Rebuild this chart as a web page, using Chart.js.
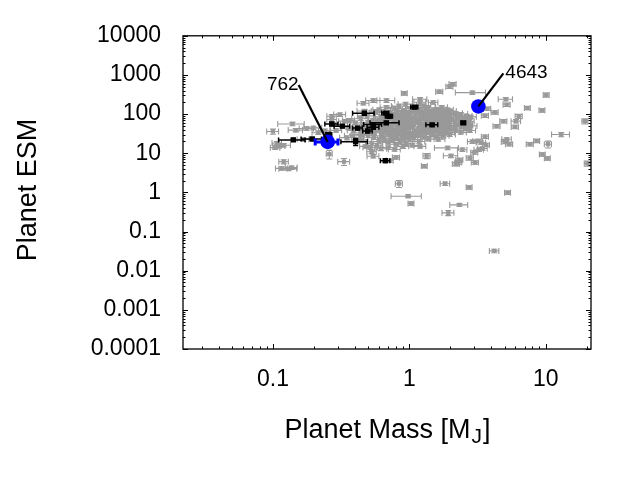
<!DOCTYPE html>
<html><head><meta charset="utf-8">
<script src="https://cdn.jsdelivr.net/npm/chart.js@4.4.0/dist/chart.umd.min.js"></script>
<style>html,body{margin:0;padding:0;background:#fff;}canvas{display:block;}</style>
</head><body>
<canvas id="c" width="640" height="480" style="width:640px;height:480px"></canvas>
<script>
// ---- axis ticks ----
const xTickValues = [0.1, 1, 10];
const xTickLabels = ['0.1', '1', '10'];
const yTickValues = [0.0001, 0.001, 0.01, 0.1, 1, 10, 100, 1000, 10000];
const yTickLabels = ['0.0001', '0.001', '0.01', '0.1', '1', '10', '100', '1000', '10000'];
const xTitle = ['Planet Mass [M', 'J', ']'];
const yTitle = 'Planet ESM';

// ---- highlighted planets (blue) ----
const blueNames = ['762', '4643'];
const blueMass = [0.252, 3.21];
const blueESM = [19.5, 157];
const blueMassErrPct = [19, 0];
const blueESMErrPct = [0, 0];

// ---- black points: [mass, ESM, massErr%, esmErr%] ----
const blackPoints = [
  [0.141, 21.9, 22, 8], [0.194, 23.2, 17, 8], [0.404, 19.8, 22, 20], [0.27, 56, 11, 8],
  [0.323, 49.3, 13, 8], [0.418, 43.9, 8, 8], [0.495, 36.9, 8, 8], [0.468, 105, 18, 8],
  [0.544, 54, 15, 8], [0.544, 46, 10, 8], [0.667, 106, 6, 8], [0.71, 88, 6, 8],
  [0.678, 59.7, 24, 8], [0.667, 6.47, 8, 10], [1.09, 151, 6, 8], [1.47, 53.1, 10, 8],
  [2.49, 59.7, 4, 8], [0.257, 30.3, 5, 8]
];

// ---- grey points: [mass, ESM, massErr%, esmErr%] ----
const greyLeft = [
  [0.10, 36, 10, 15], [0.139, 56, 22, 10], [0.147, 39, 12, 10], [0.111, 15.4, 10, 12],
  [0.12, 16, 12, 10], [0.107, 18.2, 8, 10], [0.104, 13.9, 8, 10], [0.12, 6.1, 8, 12],
  [0.116, 4.1, 10, 10], [0.13, 4.0, 15, 10], [0.137, 4.3, 10, 10], [0.259, 9.5, 5, 25],
  [0.332, 6.1, 10, 20], [0.27, 88, 8, 10], [0.31, 97, 10, 10], [0.177, 43, 12, 10],
  [0.198, 44.6, 15, 10], [0.167, 22.7, 10, 10], [0.215, 33.4, 10, 10], [0.24, 37.5, 10, 10],
  [0.27, 72.6, 8, 10], [0.29, 54.2, 8, 10], [0.29, 38.4, 10, 10], [0.357, 44.6, 12, 10],
  [0.337, 66, 10, 10], [0.46, 190, 10, 10], [0.544, 222, 12, 10], [0.68, 222, 15, 10],
  [0.38, 28, 12, 10], [0.42, 22, 10, 10], [0.44, 33, 10, 12], [0.40, 60, 12, 10],
  [0.36, 70, 10, 10], [0.48, 15, 10, 10], [0.52, 14, 12, 10], [0.58, 16, 10, 12],
  [0.62, 13, 10, 10], [0.70, 14, 12, 10], [0.78, 12.5, 10, 10], [0.90, 15, 10, 12],
  [1.05, 16, 12, 10], [1.20, 15, 10, 10], [0.42, 45, 10, 10], [0.47, 120, 12, 10],
  [0.39, 38, 10, 10], [0.35, 25, 12, 12], [0.53, 10.9, 8, 10], [0.544, 8.4, 10, 10],
  [0.72, 6.5, 6, 10], [0.8, 7.8, 6, 10], [0.84, 1.67, 6, 20], [0.98, 0.8, 25, 8],
  [1.03, 0.52, 5, 10]
];
const greyRight = [
  [0.92, 340, 5, 10], [1.2, 240, 12, 10], [1.5, 198, 8, 10], [2.08, 583, 6, 10],
  [1.97, 501, 6, 10], [1.66, 375, 6, 10], [2.9, 354, 25, 10], [10.1, 308, 5, 12],
  [5.1, 240, 12, 10], [5.18, 173, 6, 10], [7.35, 143, 5, 10], [9.4, 125, 5, 10],
  [3.73, 137, 6, 10], [4.23, 111, 6, 10], [3.59, 91, 6, 10], [6.35, 88, 6, 12],
  [4.9, 66, 6, 10], [4.37, 49, 6, 10], [5.95, 47, 6, 10], [6.06, 66, 8, 10],
  [19.4, 66, 5, 15], [13, 30, 15, 12], [10.4, 17, 6, 20], [9.46, 9.3, 5, 10],
  [10.3, 7.4, 5, 10], [8.6, 20.6, 5, 10], [7.66, 17, 6, 10], [5.18, 22.7, 8, 10],
  [5.03, 19.5, 6, 10], [5.4, 17, 6, 10], [3.59, 26.5, 6, 10], [3.36, 18.8, 8, 10],
  [3.18, 20.6, 8, 10], [2.9, 19.8, 8, 10], [3.65, 16.3, 6, 10], [3.45, 13.2, 8, 10],
  [3.24, 12.3, 8, 10], [2.45, 12.3, 8, 10], [3.0, 10.5, 6, 10], [2.78, 7.6, 6, 12],
  [2.02, 8.6, 12, 10], [3.03, 5.8, 6, 10], [2.29, 5.8, 6, 10], [1.34, 8.6, 6, 15],
  [1.29, 4.7, 5, 10], [1.91, 13.7, 20, 10], [1.63, 22.7, 12, 10], [1.83, 1.67, 8, 10],
  [2.75, 1.35, 5, 10], [5.26, 0.98, 5, 10], [2.33, 0.48, 15, 8], [1.93, 0.3, 10, 15],
  [4.2, 0.032, 8, 10], [20.2, 5.5, 5, 15], [2.33, 6.8, 6, 10], [2.2, 5.3, 6, 10]
];
const greyCore = [
  [0.45,30,12,10],[0.46,55,10,12],[0.44,76,14,10],[0.47,40,8,10],[0.45,22,10,12],
  [0.50,28,12,10],[0.51,48,10,10],[0.49,90,15,12],[0.52,35,8,10],[0.50,62,12,10],[0.53,18,10,12],
  [0.55,25,10,10],[0.56,42,12,10],[0.54,70,8,12],[0.57,110,10,10],[0.55,33,14,10],[0.58,55,10,10],
  [0.60,20,12,10],[0.61,38,10,12],[0.59,50,8,10],[0.62,85,12,10],[0.60,130,10,10],[0.63,28,15,10],[0.61,65,10,12],
  [0.65,24,10,10],[0.66,45,12,10],[0.64,58,8,10],[0.67,95,10,12],[0.65,36,12,10],[0.66,75,14,10],[0.68,150,10,10],
  [0.70,19,10,10],[0.71,30,12,12],[0.69,42,8,10],[0.72,52,10,10],[0.70,68,12,10],[0.73,110,10,12],[0.71,85,15,10],
  [0.75,22,12,10],[0.76,34,10,10],[0.74,48,8,12],[0.77,60,10,10],[0.75,78,12,10],[0.76,100,10,10],[0.78,140,14,12],[0.74,27,10,10],
  [0.80,17,10,10],[0.81,26,12,10],[0.79,38,10,12],[0.82,55,8,10],[0.80,70,12,10],[0.83,90,10,10],[0.81,120,10,12],[0.82,44,14,10],
  [0.85,21,10,10],[0.86,31,12,10],[0.84,40,10,10],[0.87,50,8,12],[0.85,63,12,10],[0.86,82,10,10],[0.88,105,10,10],[0.84,160,12,12],
  [0.90,24,10,10],[0.91,35,12,10],[0.89,46,8,10],[0.92,58,10,12],[0.90,72,12,10],[0.93,95,10,10],[0.91,125,14,10],[0.92,29,10,12],
  [0.95,18,12,10],[0.96,28,10,10],[0.94,40,8,10],[0.97,52,10,12],[0.95,66,12,10],[0.96,80,10,10],[0.98,110,10,10],[0.94,180,12,12],
  [1.00,22,10,10],[1.02,33,12,10],[0.99,45,8,10],[1.01,56,10,12],[1.03,70,12,10],[1.00,88,10,10],[1.02,115,14,10],[1.04,140,10,12],[0.99,27,10,10],
  [1.08,25,12,10],[1.10,36,10,10],[1.07,48,8,12],[1.12,60,10,10],[1.09,75,12,10],[1.11,95,10,10],[1.13,120,10,12],[1.08,150,12,10],[1.10,30,14,10],
  [1.18,20,10,10],[1.20,32,12,10],[1.17,42,8,12],[1.22,55,10,10],[1.19,68,12,10],[1.21,85,10,10],[1.23,105,10,12],[1.18,135,12,10],[1.20,200,10,10],
  [1.28,27,10,10],[1.30,38,12,12],[1.27,50,8,10],[1.32,62,10,10],[1.29,78,12,10],[1.31,98,10,12],[1.33,125,10,10],[1.28,165,12,10],
  [1.38,23,10,10],[1.40,35,12,10],[1.37,46,8,12],[1.42,58,10,10],[1.39,72,12,10],[1.41,90,10,10],[1.43,115,10,12],[1.38,145,12,10],
  [1.48,30,10,10],[1.50,42,12,10],[1.47,55,8,10],[1.52,68,10,12],[1.49,85,12,10],[1.51,105,10,10],[1.53,130,10,10],[1.46,38,14,12],
  [1.58,26,10,10],[1.60,37,12,10],[1.57,50,8,12],[1.62,63,10,10],[1.59,80,12,10],[1.61,100,10,10],[1.63,125,10,12],
  [1.68,33,10,10],[1.70,45,12,10],[1.67,58,8,10],[1.72,72,10,12],[1.69,92,12,10],[1.71,118,10,10],[1.73,150,10,10],
  [1.78,28,10,12],[1.80,40,12,10],[1.77,52,8,10],[1.82,66,10,10],[1.79,85,12,12],[1.81,110,10,10],
  [1.88,35,10,10],[1.90,48,12,10],[1.87,62,8,12],[1.92,78,10,10],[1.89,98,12,10],[1.91,130,10,10],
  [1.98,30,10,10],[2.00,44,12,12],[1.97,57,8,10],[2.02,72,10,10],[1.99,90,12,10],[2.01,120,10,12],
  [2.18,38,10,10],[2.20,52,12,10],[2.17,66,8,10],[2.22,82,10,12],[2.19,105,12,10],
  [2.38,34,10,10],[2.40,47,12,10],[2.37,60,8,12],[2.42,78,10,10],[2.39,100,12,10],
  [2.58,42,10,10],[2.60,55,12,12],[2.57,70,8,10],[2.62,90,10,10],
  [2.78,38,10,10],[2.80,50,12,10],[2.77,65,8,12],[2.82,85,10,10]
];

const toPts = rows => rows.map(r => ({x: r[0], y: r[1], dx: r[2], dy: r[3]}));
const greyData = toPts(greyLeft.concat(greyRight, greyCore));
const blackData = toPts(blackPoints);
const blueData = blueMass.map((m, i) => ({x: m, y: blueESM[i], dx: blueMassErrPct[i], dy: blueESMErrPct[i], name: blueNames[i]}));

const errorBars = {
  id: 'errorBars',
  beforeDatasetDraw(chart, args) {
    const ds = chart.data.datasets[args.index];
    if (!ds.errColor) return;
    const {ctx, chartArea: a} = chart;
    const xs = chart.scales.x, ys = chart.scales.y;
    const c = ds.capHalf;
    ctx.save();
    ctx.beginPath(); ctx.rect(a.left, a.top, a.right - a.left, a.bottom - a.top); ctx.clip();
    ctx.strokeStyle = ds.errColor; ctx.lineWidth = ds.errWidth;
    ctx.beginPath();
    ds.data.forEach(p => {
      const x = xs.getPixelForValue(p.x), y = ys.getPixelForValue(p.y);
      if (p.dx) {
        const x1 = xs.getPixelForValue(p.x * (1 - p.dx / 100)), x2 = xs.getPixelForValue(p.x * (1 + p.dx / 100));
        ctx.moveTo(x1, y); ctx.lineTo(x2, y);
        ctx.moveTo(x1, y - c); ctx.lineTo(x1, y + c);
        ctx.moveTo(x2, y - c); ctx.lineTo(x2, y + c);
      }
      if (p.dy) {
        const y1 = ys.getPixelForValue(p.y * (1 - p.dy / 100)), y2 = ys.getPixelForValue(p.y * (1 + p.dy / 100));
        ctx.moveTo(x, y1); ctx.lineTo(x, y2);
        ctx.moveTo(x - c, y1); ctx.lineTo(x + c, y1);
        ctx.moveTo(x - c, y2); ctx.lineTo(x + c, y2);
      }
    });
    ctx.stroke();
    ctx.restore();
  }
};

const frame = {
  id: 'frame',
  afterDatasetsDraw(chart, args, opts) {
    const {ctx, chartArea: a} = chart;
    const xs = chart.scales.x, ys = chart.scales.y;
    ctx.save();
    ctx.strokeStyle = '#000';
    ctx.lineWidth = 1;
    ctx.beginPath();
    for (let e = Math.floor(Math.log10(xs.min)); e <= Math.ceil(Math.log10(xs.max)); e++) {
      for (let k = 1; k < 10; k++) {
        const v = k * Math.pow(10, e);
        if (v < xs.min || v > xs.max) continue;
        const px = Math.round(xs.getPixelForValue(v)) + 0.5, L = k === 1 ? 5 : 2.5;
        ctx.moveTo(px, a.bottom); ctx.lineTo(px, a.bottom - L);
        ctx.moveTo(px, a.top); ctx.lineTo(px, a.top + L);
      }
    }
    for (let e = Math.floor(Math.log10(ys.min)); e <= Math.ceil(Math.log10(ys.max)); e++) {
      for (let k = 1; k < 10; k++) {
        const v = k * Math.pow(10, e);
        if (v < ys.min * 0.999 || v > ys.max * 1.001) continue;
        const py = Math.round(ys.getPixelForValue(v)) + 0.5, L = k === 1 ? 5 : 2.5;
        ctx.moveTo(a.left, py); ctx.lineTo(a.left + L, py);
        ctx.moveTo(a.right, py); ctx.lineTo(a.right - L, py);
      }
    }
    ctx.stroke();
    ctx.lineWidth = 1.3;
    ctx.strokeRect(a.left, a.top, a.right - a.left, a.bottom - a.top);

    // annotation labels with leader lines
    ctx.lineWidth = 2.2;
    ctx.fillStyle = '#000';
    ctx.font = '19px "Liberation Sans", Arial, sans-serif';
    blueData.forEach((p, i) => {
      const o = opts.offsets[i];
      const x = xs.getPixelForValue(p.x), y = ys.getPixelForValue(p.y);
      const ex = x + o[0], ey = y + o[1];
      ctx.beginPath(); ctx.moveTo(x, y); ctx.lineTo(ex, ey); ctx.stroke();
      ctx.textAlign = o[0] < 0 ? 'right' : 'left';
      ctx.textBaseline = 'alphabetic';
      ctx.fillText(p.name, ex + (o[0] < 0 ? 0 : 2), ey + 5);
    });
    ctx.restore();
  },
  afterDraw(chart) {
    const {ctx} = chart;
    ctx.save();
    ctx.fillStyle = '#000';
    const big = '27px "Liberation Sans", Arial, sans-serif';
    const small = '21px "Liberation Sans", Arial, sans-serif';
    ctx.textBaseline = 'alphabetic';
    ctx.font = big; const w1 = ctx.measureText(xTitle[0]).width, w3 = ctx.measureText(xTitle[2]).width;
    ctx.font = small; const w2 = ctx.measureText(xTitle[1]).width;
    let sx = 386.5 - (w1 + w2 + w3) / 2, by = 438;
    ctx.textAlign = 'left';
    ctx.font = big; ctx.fillText(xTitle[0], sx, by);
    ctx.font = small; ctx.fillText(xTitle[1], sx + w1 + 1, by + 5);
    ctx.font = big; ctx.fillText(xTitle[2], sx + w1 + w2 + 2, by);
    ctx.translate(35.5, 190);
    ctx.rotate(-Math.PI / 2);
    ctx.textAlign = 'center';
    ctx.fillText(yTitle, 0, 0);
    ctx.restore();
  }
};

const tickFont = {family: '"Liberation Sans", Arial, sans-serif', size: 23};

new Chart(document.getElementById('c'), {
  type: 'scatter',
  data: {
    datasets: [
      {data: blueData, pointStyle: 'circle', pointRadius: 7.3, backgroundColor: '#0000ff', borderColor: '#0000ff', borderWidth: 0,
       errColor: '#0000ff', errWidth: 3, capHalf: 3.5},
      {data: blackData, pointStyle: 'rect', pointRadius: 3.8, backgroundColor: '#000', borderColor: '#000', borderWidth: 0,
       errColor: '#000', errWidth: 1.5, capHalf: 2.5},
      {data: greyData, pointStyle: 'rect', pointRadius: 3, backgroundColor: '#999999', borderColor: '#999999', borderWidth: 0,
       errColor: '#999999', errWidth: 1.1, capHalf: 3}
    ]
  },
  options: {
    responsive: false,
    animation: false,
    events: [],
    layout: {padding: {left: 0, right: 49, top: 32, bottom: 51}},
    scales: {
      x: {
        type: 'logarithmic', min: 0.0219, max: 21.5,
        grid: {display: false, drawTicks: false}, border: {display: false},
        ticks: {font: tickFont, color: '#000', padding: 17, maxRotation: 0, autoSkip: false,
                callback: v => { const i = xTickValues.indexOf(v); return i >= 0 ? xTickLabels[i] : ''; }},
        afterBuildTicks: s => { s.ticks = xTickValues.map(v => ({value: v})); },
        afterFit: s => { s.height = 80; }
      },
      y: {
        type: 'logarithmic', min: 0.0001, max: 10000,
        grid: {display: false, drawTicks: false}, border: {display: false},
        ticks: {font: tickFont, color: '#000', padding: 22, autoSkip: false,
                callback: v => { const i = yTickValues.indexOf(v); return i >= 0 ? yTickLabels[i] : ''; }},
        afterBuildTicks: s => { s.ticks = yTickValues.map(v => ({value: v})); },
        afterFit: s => { s.width = 183; }
      }
    },
    plugins: {
      legend: {display: false},
      tooltip: {enabled: false},
      frame: {offsets: [[-29, -57], [25, -33]]}
    }
  },
  plugins: [errorBars, frame]
});
</script>
</body></html>
